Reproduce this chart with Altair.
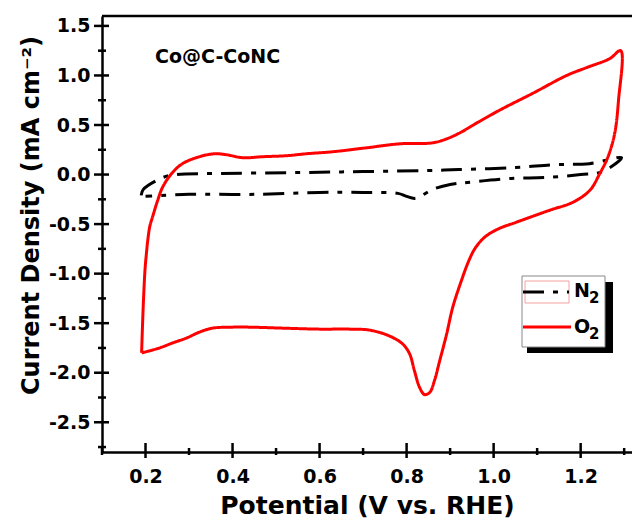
import altair as alt
import pandas as pd

# ---------------- data ----------------
series = ["N₂", "O₂"]
colors = ["#000000", "#ff0000"]

n2_v = [0.19, 0.195, 0.24, 0.27, 0.35, 0.55, 0.70, 0.85, 0.92, 1.05, 1.14, 1.22, 1.294,
        1.25, 1.20, 1.12, 1.04, 0.94, 0.90, 0.86, 0.82, 0.80, 0.78, 0.70, 0.60, 0.45, 0.30, 0.20]
n2_j = [-0.21, -0.15, -0.03, 0.00, 0.01, 0.02, 0.03, 0.04, 0.05, 0.07, 0.10, 0.11, 0.17,
        0.03, 0.00, -0.03, -0.04, -0.08, -0.10, -0.15, -0.24, -0.22, -0.19, -0.18, -0.18, -0.20, -0.20, -0.22]

o2_v = [0.191, 0.195, 0.199, 0.202, 0.205, 0.210, 0.216, 0.228, 0.239, 0.260, 0.285, 0.324, 0.359,
        0.386, 0.423, 0.469, 0.524, 0.570, 0.630, 0.708, 0.784, 0.860, 0.892, 0.922, 0.961, 1.014,
        1.090, 1.168, 1.214, 1.267, 1.292, 1.287, 1.278, 1.262, 1.244, 1.221, 1.182, 1.129, 1.053,
        1.010, 0.980, 0.958, 0.943, 0.926, 0.906, 0.892, 0.876, 0.864, 0.853, 0.841, 0.830, 0.818,
        0.807, 0.791, 0.761, 0.715, 0.669, 0.600, 0.515, 0.439, 0.400, 0.354, 0.324, 0.294, 0.262,
        0.232, 0.191]
o2_j = [-1.80, -1.30, -0.95, -0.80, -0.67, -0.52, -0.43, -0.26, -0.13, 0.01, 0.11, 0.18, 0.21,
        0.20, 0.17, 0.18, 0.19, 0.21, 0.23, 0.27, 0.31, 0.32, 0.36, 0.42, 0.52, 0.65,
        0.82, 1.00, 1.08, 1.17, 1.25, 0.75, 0.41, 0.17, 0.01, -0.16, -0.28, -0.36, -0.48,
        -0.55, -0.63, -0.74, -0.87, -1.07, -1.34, -1.61, -1.88, -2.08, -2.20, -2.22, -2.15, -1.98,
        -1.81, -1.71, -1.63, -1.57, -1.56, -1.56, -1.55, -1.54, -1.54, -1.55, -1.59, -1.65, -1.70,
        -1.75, -1.80]

x_major = [0.2, 0.4, 0.6, 0.8, 1.0, 1.2]
x_minor = [0.1, 0.3, 0.5, 0.7, 0.9, 1.1, 1.3]
y_major = [-2.5, -2.0, -1.5, -1.0, -0.5, 0.0, 0.5, 1.0, 1.5]
y_minor = [-2.75, -2.25, -1.75, -1.25, -0.75, -0.25, 0.25, 0.75, 1.25]

annotation = "Co@C-CoNC"
x_title = "Potential (V vs. RHE)"
y_title = "Current Density (mA cm⁻²)"

# ---------------- layout ----------------
W, H = 530, 436
FONT = "DejaVu Sans"

rows = []
for name, vs, js in [(series[0], n2_v, n2_j), (series[1], o2_v, o2_j)]:
    for i, (v, j) in enumerate(zip(vs, js)):
        rows.append({"series": name, "V": v, "J": j, "idx": i})
df = pd.DataFrame(rows)

xscale = alt.Scale(domain=[0.1, 1.318], nice=False, zero=False)
yscale = alt.Scale(domain=[-2.8, 1.6], nice=False, zero=False)

common_axis = dict(ticks=False, tickSize=0, grid=False, domainColor="black", domainWidth=2.5,
                   labelFont=FONT, labelFontWeight="bold", labelFontSize=19, labelColor="black",
                   titleFont=FONT, titleFontWeight="bold", titleColor="black",
                   labelFlush=False, labelOverlap=False)

xaxis = alt.Axis(title=x_title, values=x_major, format=".1f", labelPadding=15,
                 titleFontSize=25, titleBaseline="alphabetic", titleY=61, **common_axis)
yaxis = alt.Axis(title=y_title, values=y_major, format=".1f", labelPadding=12,
                 labelExpr="replace(datum.label, '\u2212', '-')",
                 titleFontSize=24, titleAngle=270, titleBaseline="alphabetic",
                 titleX=-64, titleY=199, titleAlign="center", **common_axis)

lines = alt.Chart(df).mark_line(strokeWidth=3, strokeCap="butt", strokeJoin="round",
                                interpolate="catmull-rom").encode(
    x=alt.X("V:Q", scale=xscale, axis=xaxis),
    y=alt.Y("J:Q", scale=yscale, axis=yaxis),
    color=alt.Color("series:N", scale=alt.Scale(domain=series, range=colors), legend=None),
    strokeDash=alt.StrokeDash("series:N",
                              scale=alt.Scale(domain=series, range=[[21, 9, 5, 9], [1, 0]]),
                              legend=None),
    order="idx:Q",
)


def xticks(vals, inner, outer):
    return alt.Chart(pd.DataFrame({"V": vals})).mark_rule(color="black", strokeWidth=2.5).encode(
        x=alt.X("V:Q", scale=xscale, axis=xaxis),
        y=alt.value(H - inner), y2=alt.value(H + outer))


def yticks(vals, inner, outer):
    return alt.Chart(pd.DataFrame({"J": vals})).mark_rule(color="black", strokeWidth=2.5).encode(
        y=alt.Y("J:Q", scale=yscale, axis=yaxis),
        x=alt.value(-outer), x2=alt.value(inner))


one = pd.DataFrame({"k": [0]})
top_border = alt.Chart(one).mark_rule(color="black", strokeWidth=2.5).encode(
    x=alt.value(0), x2=alt.value(W), y=alt.value(0))

ann = alt.Chart(one).mark_text(font=FONT, fontWeight="bold", fontSize=19, align="left",
                               baseline="alphabetic", color="black").encode(
    x=alt.value(53), y=alt.value(47), text=alt.value(annotation))

# legend (drawn manually to reproduce the boxed, shadowed look)
shadow = alt.Chart(one).mark_rect(color="black").encode(
    x=alt.value(425), x2=alt.value(511), y=alt.value(266), y2=alt.value(337))
box = alt.Chart(one).mark_rect(fill="white", stroke="#888888", strokeWidth=1).encode(
    x=alt.value(420), x2=alt.value(503), y=alt.value(260), y2=alt.value(331))
n2_sample = alt.Chart(one).mark_rule(color=colors[0], strokeWidth=3,
                                     strokeDash=[21, 9, 5, 9]).encode(
    x=alt.value(421), x2=alt.value(467), y=alt.value(276))
n2_frame = alt.Chart(one).mark_rect(fill=None, stroke="#f4a0a0", strokeWidth=1).encode(
    x=alt.value(423), x2=alt.value(467), y=alt.value(265), y2=alt.value(287))
o2_sample = alt.Chart(one).mark_rule(color=colors[1], strokeWidth=3).encode(
    x=alt.value(421), x2=alt.value(469), y=alt.value(311))

sub_map = str.maketrans("₀₁₂₃₄₅₆₇₈₉", "0123456789")


def legend_label(name, y_base):
    main = name[:-1]
    sub = name[-1].translate(sub_map)
    t_main = alt.Chart(one).mark_text(font=FONT, fontWeight="bold", fontSize=19, align="left",
                                      baseline="alphabetic", color="black").encode(
        x=alt.value(472), y=alt.value(y_base), text=alt.value(main))
    t_sub = alt.Chart(one).mark_text(font=FONT, fontWeight="bold", fontSize=15, align="left",
                                     baseline="alphabetic", color="black").encode(
        x=alt.value(487), y=alt.value(y_base + 6), text=alt.value(sub))
    return [t_main, t_sub]


labels = legend_label(series[0], 281) + legend_label(series[1], 317)

chart = alt.layer(
    lines,
    xticks(x_major, 9, 6), xticks(x_minor, 4, 3),
    yticks(y_major, 7, 8), yticks(y_minor, 4, 4),
    top_border, ann,
    shadow, box, n2_frame, n2_sample, o2_sample, *labels,
).properties(
    width=W, height=H,
    padding={"left": 102, "top": 16, "right": 0, "bottom": 68},
    autosize=alt.AutoSizeParams(type="none"),
    background="white",
).configure_view(stroke=None)

chart.save("out.html", embed_options={"renderer": "svg", "actions": False})
